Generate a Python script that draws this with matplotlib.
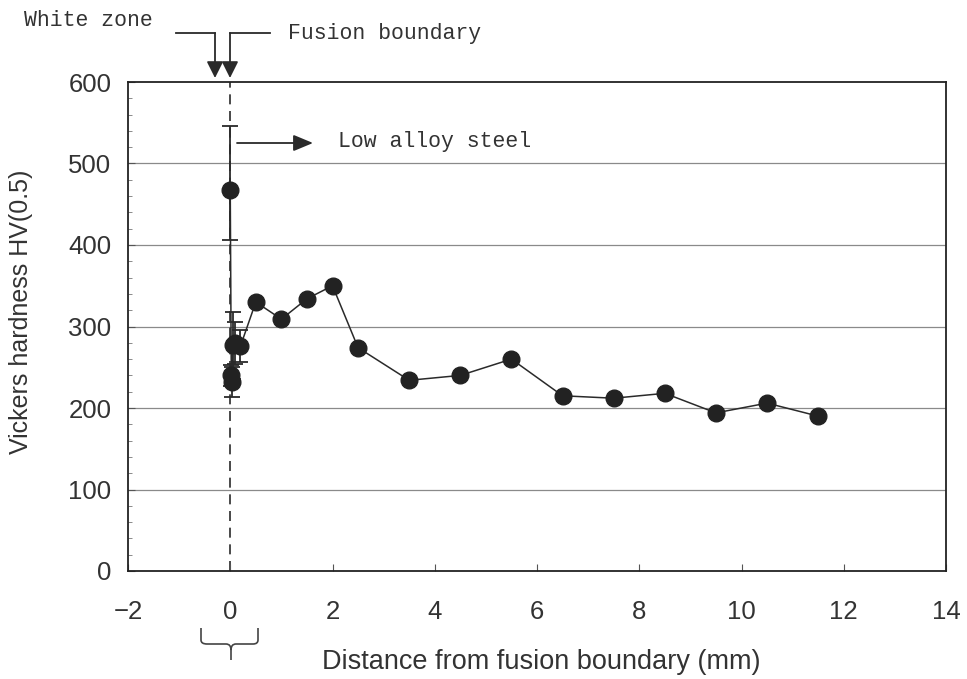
import matplotlib
matplotlib.use("Agg")
import matplotlib.pyplot as plt
from matplotlib.path import Path
from matplotlib.patches import PathPatch, FancyArrowPatch
from matplotlib.ticker import MultipleLocator

# ---- data ----
distance_mm = [0.0, 0.02, 0.03, 0.05, 0.10, 0.20, 0.5, 1.0, 1.5, 2.0, 2.5, 3.5,
               4.5, 5.5, 6.5, 7.5, 8.5, 9.5, 10.5, 11.5]
hardness_hv = [467, 240, 232, 277, 280, 276, 330, 309, 334, 350, 274, 234,
               240, 260, 215, 212, 218, 194, 206, 190]
err_x = [0.0, 0.02, 0.03, 0.05, 0.10, 0.20]
err_y = [467, 240, 232, 277, 280, 276]
err_low = [61, 13, 18, 41, 26, 20]
err_high = [79, 13, 18, 41, 26, 20]

x_ticks = [-2, 0, 2, 4, 6, 8, 10, 12, 14]
y_ticks = [0, 100, 200, 300, 400, 500, 600]

W, H = 967, 679
fig = plt.figure(figsize=(W / 100, H / 100), dpi=100)
ax = fig.add_axes([128 / W, 1 - 571 / H, (946 - 128) / W, (571 - 82) / H])

sans = "Liberation Sans"
mono = "Liberation Mono"
ink = "#2a2a2a"

# grid lines
for yv in y_ticks[1:-1]:
    ax.axhline(yv, color="#8a8a8a", lw=0.9, zorder=0)

# dashed fusion boundary line
ax.axvline(0, color=ink, lw=1.2, ls=(0, (6, 4)), zorder=1)

# error bars
ax.errorbar(err_x, err_y, yerr=[err_low, err_high], fmt="none", ecolor=ink,
            elinewidth=1.3, capsize=6, capthick=1.3, zorder=2)

# data line and markers
ax.plot(distance_mm, hardness_hv, color=ink, lw=1.1, marker="o", markersize=12,
        markerfacecolor="#222222", markeredgecolor="#222222", zorder=3)

ax.set_xlim(-2, 14)
ax.set_ylim(0, 600)
ax.set_xticks(x_ticks)
ax.set_yticks(y_ticks)
ax.set_xticklabels(["\u22122"] + [str(v) for v in x_ticks[1:]], fontfamily=sans, fontsize=18.5, color="#333333")
ax.set_yticklabels([str(v) for v in y_ticks], fontfamily=sans, fontsize=18.5, color="#333333")
ax.yaxis.set_minor_locator(MultipleLocator(20))
ax.tick_params(axis="both", which="major", direction="in", length=5, width=0.8, colors="#555555",
               labelcolor="#333333")
ax.tick_params(axis="x", which="major", pad=21)
ax.tick_params(axis="y", which="major", pad=12)
ax.tick_params(axis="y", which="minor", direction="in", length=3, width=0.6, colors="#777777")
ax.tick_params(axis="x", which="minor", bottom=False)
for s in ax.spines.values():
    s.set_color("#222222")
    s.set_linewidth(1.3)

ax.set_ylabel("Vickers hardness HV(0.5)", fontfamily=sans, fontsize=18, color="#333333", va="center")
ax.yaxis.set_label_coords((21 - 128) / 818, (571 - 312) / 489)
ax.set_xlabel("Distance from fusion boundary (mm)", fontfamily=sans, fontsize=19.5, color="#333333", va="center")
ax.xaxis.set_label_coords((541 - 128) / 818, (571 - 662) / 489)


def fp(px, py):
    return (px / W, 1 - py / H)


# annotations (figure pixel coordinates)
tkw = dict(fontfamily=mono, fontsize=15.5, color="#333333", va="center", ha="left")
fig.text(*fp(24, 20), "White zone", **tkw)
fig.text(*fp(288, 34), "Fusion boundary", **tkw)
fig.text(*fp(338, 141), "Low alloy steel", **tkw)

ahead = "-|>,head_length=10,head_width=5"
# white-zone arrow
fig.add_artist(plt.Line2D([176 / W, 215 / W], [1 - 33 / H, 1 - 33 / H], color=ink, lw=1.3))
fig.add_artist(FancyArrowPatch(fp(215, 33), fp(215, 78), transform=fig.transFigure,
                               arrowstyle=ahead, color=ink, lw=1.3, shrinkA=0, shrinkB=0))
# fusion boundary arrow
fig.add_artist(plt.Line2D([230 / W, 270 / W], [1 - 33 / H, 1 - 33 / H], color=ink, lw=1.3))
fig.add_artist(FancyArrowPatch(fp(230, 33), fp(230, 78), transform=fig.transFigure,
                               arrowstyle=ahead, color=ink, lw=1.3, shrinkA=0, shrinkB=0))
# low alloy steel arrow
fig.add_artist(FancyArrowPatch(fp(237, 143), fp(313, 143), transform=fig.transFigure,
                               arrowstyle="-|>,head_length=12,head_width=5", color=ink, lw=1.3,
                               shrinkA=0, shrinkB=0))

# curly bracket under x axis
verts = [fp(201, 628), fp(201, 640), fp(201, 644), fp(207, 644),
         fp(226, 644), fp(231, 644), fp(231, 650), fp(231, 660),
         fp(231, 650), fp(231, 644), fp(236, 644),
         fp(253, 644), fp(258, 644), fp(258, 640), fp(258, 628)]
codes = [Path.MOVETO, Path.LINETO, Path.CURVE3, Path.CURVE3,
         Path.LINETO, Path.CURVE3, Path.CURVE3, Path.LINETO,
         Path.MOVETO, Path.CURVE3, Path.CURVE3,
         Path.LINETO, Path.CURVE3, Path.CURVE3, Path.LINETO]
fig.add_artist(PathPatch(Path(verts, codes), transform=fig.transFigure, fill=False,
                         edgecolor="#444444", lw=1.2))

fig.savefig("out.png", dpi=100, facecolor="white")
